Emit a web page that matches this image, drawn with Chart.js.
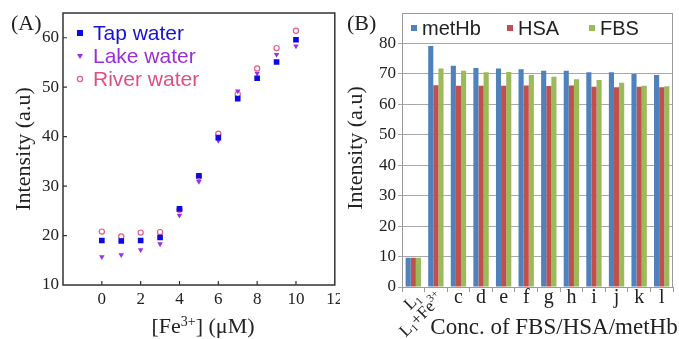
<!DOCTYPE html>
<html>
<head>
<meta charset="utf-8">
<script src="https://cdn.jsdelivr.net/npm/chart.js"></script>
<style>
  body { margin: 0; background: #fff; width: 679px; height: 339px; position: relative; overflow: hidden; }
  canvas { position: absolute; top: 0; }
  #chartA { left: 0; }
  #chartB { left: 340px; }
</style>
</head>
<body>
<canvas id="chartA" width="340" height="339"></canvas>
<canvas id="chartB" width="339" height="339"></canvas>
<script>
// panel A: Fe3+ in water samples
const feConc = [0, 1, 2, 3, 4, 5, 6, 7, 8, 9, 10];
const tapWater = [19.0, 18.9, 19.0, 19.6, 25.4, 32.1, 39.8, 47.7, 51.8, 55.1, 59.6];
const lakeWater = [15.7, 16.1, 17.1, 18.3, 24.1, 30.9, 39.2, 49.2, 52.8, 56.6, 58.3];
const riverWater = [20.8, 19.8, 20.6, 20.7, 25.2, 31.9, 40.6, 48.6, 53.8, 57.9, 61.4];
const feTicks = [0, 2, 4, 6, 8, 10, 12];
const intensityTicksA = [10, 20, 30, 40, 50, 60];

// panel B: proteins
const samples = ['L1', 'L1+Fe3+', 'c', 'd', 'e', 'f', 'g', 'h', 'i', 'j', 'k', 'l'];
const metHb = [9.6, 79.2, 72.7, 71.9, 71.8, 71.5, 71.0, 71.0, 70.5, 70.5, 70.0, 69.6];
const hsa = [9.6, 66.3, 66.1, 66.1, 66.1, 66.2, 66.0, 66.2, 65.8, 65.6, 65.8, 65.6];
const fbs = [9.6, 71.8, 71.0, 70.5, 70.6, 69.6, 69.1, 68.2, 68.0, 67.1, 66.1, 65.9];
const intensityTicksB = [0, 10, 20, 30, 40, 50, 60, 70, 80];

const SERIF = '"Liberation Serif", "Times New Roman", serif';
const SANS = '"Liberation Sans", Arial, sans-serif';

// sub/superscript pieces for labels
const richLabels = {
  'L1': [['L'], ['1', 'sub']],
  'L1+Fe3+': [['L'], ['1', 'sub'], ['+Fe'], ['3+', 'sup']]
};

function drawRich(ctx, parts, x, y, size, align) {
  const small = Math.round(size * 0.62);
  let w = 0;
  parts.forEach(p => {
    ctx.font = (p[1] ? small : size) + 'px ' + SERIF;
    w += ctx.measureText(p[0]).width;
  });
  let cx = align === 'right' ? x - w : align === 'center' ? x - w / 2 : x;
  ctx.textAlign = 'left';
  parts.forEach(p => {
    ctx.font = (p[1] ? small : size) + 'px ' + SERIF;
    const dy = p[1] === 'sub' ? size * 0.28 : p[1] === 'sup' ? -size * 0.32 : 0;
    ctx.fillText(p[0], cx, y + dy);
    cx += ctx.measureText(p[0]).width;
  });
}

function drawMarker(ctx, style, x, y, color) {
  ctx.fillStyle = color;
  ctx.strokeStyle = color;
  ctx.beginPath();
  if (style === 'rect') {
    ctx.fillRect(x - 3, y - 3, 6, 6);
  } else if (style === 'triangle') {
    ctx.moveTo(x - 3, y - 2);
    ctx.lineTo(x + 3, y - 2);
    ctx.lineTo(x, y + 3);
    ctx.closePath();
    ctx.fill();
  } else {
    ctx.lineWidth = 1.2;
    ctx.arc(x, y, 2.6, 0, Math.PI * 2);
    ctx.stroke();
  }
}

const toPoints = arr => arr.map((v, i) => ({ x: feConc[i], y: v }));

const frameA = {
  id: 'frameA',
  afterDraw(chart) {
    const { ctx, chartArea: a, scales: { x, y } } = chart;
    ctx.save();
    ctx.strokeStyle = '#333';
    ctx.lineWidth = 1.5;
    ctx.strokeRect(a.left, a.top, a.right - a.left, a.bottom - a.top);
    ctx.lineWidth = 1.2;
    ctx.beginPath();
    feTicks.forEach(v => {
      if (v < x.max) {
        const px = x.getPixelForValue(v);
        ctx.moveTo(px, a.bottom);
        ctx.lineTo(px, a.bottom - 4);
      }
    });
    intensityTicksA.forEach(v => {
      if (v > y.min) {
        const py = y.getPixelForValue(v);
        ctx.moveTo(a.left, py);
        ctx.lineTo(a.left + 4, py);
      }
    });
    ctx.stroke();

    // legend inside the plot
    ctx.textBaseline = 'middle';
    chart.data.datasets.forEach((ds, i) => {
      const ly = 33 + i * 23;
      drawMarker(ctx, ds.pointStyle, 80, ly, ds.borderColor);
      ctx.fillStyle = ds.textColor;
      ctx.font = '21px ' + SANS;
      ctx.textAlign = 'left';
      ctx.fillText(ds.label, 93, ly + 1);
    });

    ctx.fillStyle = '#222';
    ctx.font = '22px ' + SERIF;
    ctx.textAlign = 'left';
    ctx.textBaseline = 'alphabetic';
    ctx.fillText('(A)', 11, 30);

    drawRich(ctx, [['[Fe'], ['3+', 'sup'], [']\u00a0(\u03bcM)']], 203, 333, 22, 'center');

    ctx.translate(30, 149);
    ctx.rotate(-Math.PI / 2);
    ctx.font = '22px ' + SERIF;
    ctx.textAlign = 'center';
    ctx.fillText('Intensity (a.u)', 0, 0);
    ctx.restore();
  }
};

new Chart(document.getElementById('chartA'), {
  type: 'scatter',
  data: {
    datasets: [
      { label: 'Tap water', data: toPoints(tapWater), pointStyle: 'rect', pointRadius: 4,
        backgroundColor: '#0a0ae6', borderColor: '#0a0ae6', borderWidth: 0, textColor: '#1414d2' },
      { label: 'Lake water', data: toPoints(lakeWater), pointStyle: 'triangle', rotation: 180, pointRadius: 3.2,
        backgroundColor: '#9b30e6', borderColor: '#9b30e6', borderWidth: 0, textColor: '#9a2ed8' },
      { label: 'River water', data: toPoints(riverWater), pointStyle: 'circle', pointRadius: 2.6,
        backgroundColor: 'rgba(0,0,0,0)', borderColor: '#e55c8a', borderWidth: 1.2, textColor: '#e0507e' }
    ]
  },
  options: {
    responsive: false,
    animation: false,
    devicePixelRatio: 1,
    layout: { padding: { top: 13, right: 2, left: 0, bottom: 0 } },
    plugins: { legend: { display: false }, tooltip: { enabled: false } },
    scales: {
      x: {
        type: 'linear', min: -2, max: 12,
        afterBuildTicks: s => { s.ticks = feTicks.map(v => ({ value: v })); },
        afterFit: s => { s.height = 54; s.paddingLeft = 0; s.paddingRight = 0; },
        grid: { display: false, drawTicks: false },
        border: { display: false },
        ticks: { padding: 4, maxRotation: 0, color: '#222', font: { family: SERIF, size: 17 } }
      },
      y: {
        min: 10, max: 65,
        afterBuildTicks: s => { s.ticks = intensityTicksA.map(v => ({ value: v })); },
        afterFit: s => { s.width = 63; s.paddingTop = 0; s.paddingBottom = 0; },
        grid: { display: false, drawTicks: false },
        border: { display: false },
        ticks: { padding: 4, color: '#222', font: { family: SERIF, size: 17 } }
      }
    }
  },
  plugins: [frameA]
});

const frameB = {
  id: 'frameB',
  afterDraw(chart) {
    const { ctx, chartArea: a, scales: { x } } = chart;
    ctx.save();
    ctx.strokeStyle = '#9a9a9a';
    ctx.lineWidth = 1;
    ctx.strokeRect(a.left + 0.5, a.top + 0.5, a.right - a.left - 1, a.bottom - a.top);

    // category labels
    ctx.fillStyle = '#222';
    ctx.textBaseline = 'middle';
    samples.forEach((s, i) => {
      const px = x.getPixelForValue(i);
      if (richLabels[s]) {
        ctx.save();
        ctx.translate(px + 5, a.bottom + 9);
        ctx.rotate(-Math.PI / 4);
        drawRich(ctx, richLabels[s], 0, 0, 17, 'right');
        ctx.restore();
      } else {
        ctx.font = '20px ' + SERIF;
        ctx.textAlign = 'center';
        ctx.fillText(s, px, a.bottom + 11);
      }
    });

    // legend
    chart.data.datasets.forEach((ds, i) => {
      const lx = [74, 170, 252][i];
      ctx.fillStyle = ds.backgroundColor;
      ctx.fillRect(lx - 3, 25, 6, 6);
      ctx.fillStyle = '#222';
      ctx.font = '20px ' + SANS;
      ctx.textAlign = 'left';
      ctx.fillText(ds.label, lx + 8, 29);
    });

    ctx.textBaseline = 'alphabetic';
    ctx.font = '22px ' + SERIF;
    ctx.textAlign = 'left';
    ctx.fillText('(B)', 7, 30);

    ctx.font = '23px ' + SERIF;
    ctx.textAlign = 'center';
    ctx.fillText('Conc. of FBS/HSA/metHb', 214, 334);

    ctx.font = '22px ' + SERIF;
    ctx.translate(22, 148);
    ctx.rotate(-Math.PI / 2);
    ctx.fillText('Intensity (a.u)', 0, 0);
    ctx.restore();
  }
};

new Chart(document.getElementById('chartB'), {
  type: 'bar',
  data: {
    labels: samples,
    datasets: [
      { label: 'metHb', data: metHb, backgroundColor: '#4f81bd' },
      { label: 'HSA', data: hsa, backgroundColor: '#c0504d' },
      { label: 'FBS', data: fbs, backgroundColor: '#9bbb59' }
    ]
  },
  options: {
    responsive: false,
    animation: false,
    devicePixelRatio: 1,
    layout: { padding: { top: 13, right: 6, left: 0, bottom: 0 } },
    plugins: { legend: { display: false }, tooltip: { enabled: false } },
    datasets: { bar: { barPercentage: 1, categoryPercentage: 0.68 } },
    scales: {
      x: {
        afterFit: s => { s.height = 52; s.paddingLeft = 0; s.paddingRight = 0; },
        grid: { drawOnChartArea: false, drawTicks: true, tickLength: 5, color: '#9a9a9a' },
        border: { display: false },
        ticks: { display: false }
      },
      y: {
        min: 0, max: 90,
        afterBuildTicks: s => { s.ticks = intensityTicksB.map(v => ({ value: v })); },
        afterFit: s => { s.width = 62; s.paddingTop = 0; s.paddingBottom = 0; },
        grid: { color: '#a8a8a8', tickLength: 4 },
        border: { display: false },
        ticks: { padding: 2, color: '#222', font: { family: SERIF, size: 17 } }
      }
    }
  },
  plugins: [frameB]
});
</script>
</body>
</html>
